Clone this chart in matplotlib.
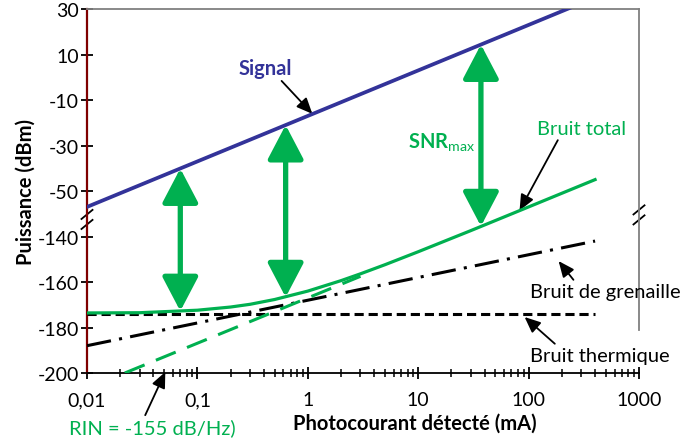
import matplotlib
matplotlib.use("Agg")
import matplotlib.pyplot as plt
from matplotlib.ticker import FixedLocator, LogLocator, NullFormatter

plt.rcParams['font.family'] = ['Lato', 'DejaVu Sans']
plt.rcParams['font.size'] = 14
plt.rcParams['mathtext.fontset'] = 'custom'
plt.rcParams['mathtext.rm'] = 'Lato'

# lower part of the broken y axis (noise, dBm) is shifted up by this amount
BREAK_SHIFT = 70

signal_ma = [0.01, 1000]
signal_dbm = [-57, 43]

thermal_ma = [0.01, 400]
thermal_dbm = [-174, -174]

shot_ma = [0.01, 400]
shot_dbm = [-188, -142]

rin_ma = [0.022, 3]
rin_dbm = [-200, -157.5]

total_ma = [0.01, 0.03, 0.1, 0.2, 0.3, 0.5, 1, 2, 3, 5, 10, 30, 100, 400]
total_dbm = [-173.6, -173.5, -172.4, -171.0, -169.8, -167.7, -164.0, -159.4,
             -156.4, -152.4, -146.7, -137.4, -127.0, -115.0]

# SNR arrows: current, signal level, total noise level
snr_ma = [0.07, 0.63, 37]
snr_sig = [-40.1, -21.0, 14.4]
snr_noise = [-172.8, -166.7, -135.5]

ytick_pos = [30, 10, -10, -30, -50, -70, -90, -110, -130]
ytick_labels = ['30', '10', '-10', '-30', '-50', '-140', '-160', '-180', '-200']
xtick_pos = [0.01, 0.1, 1, 10, 100, 1000]
xtick_labels = ['0,01', '0,1', '1', '10', '100', '1000']

green = '#00B050'
blue = '#333399'
fs = 14.5


def lo(vals):
    return [v + BREAK_SHIFT for v in vals]


fig = plt.figure(figsize=(6.82, 4.39), dpi=100)
ax = fig.add_axes([87 / 682, 1 - 374 / 439, (639 - 87) / 682, (374 - 10) / 439])
ax.set_xscale('log')
ax.set_xlim(0.01, 1000)
ax.set_ylim(-130, 30)

ax.plot(thermal_ma, lo(thermal_dbm), color='black', lw=2.2, ls=(0, (3, 1.6)), zorder=3)
ax.plot(shot_ma, lo(shot_dbm), color='black', lw=2.2, ls=(0, (8, 2.7, 1, 2.7)), zorder=3)
ax.plot(rin_ma, lo(rin_dbm), color=green, lw=2.2, ls=(0, (7, 4)), zorder=3)
ax.plot(total_ma, lo(total_dbm), color=green, lw=2.3, zorder=4)
ax.plot(signal_ma, signal_dbm, color=blue, lw=2.7, zorder=4)

for x, s, n in zip(snr_ma, snr_sig, snr_noise):
    ax.annotate('', xy=(x, s), xytext=(x, n + BREAK_SHIFT),
                arrowprops=dict(arrowstyle='<|-|>,head_length=1.05,head_width=0.55',
                                mutation_scale=20, color=green, lw=3.8,
                                shrinkA=0, shrinkB=0), zorder=5)

# spines
ax.spines['left'].set_color('#7F0000')
ax.spines['left'].set_linewidth(1.6)
ax.spines['bottom'].set_color('black')
ax.spines['bottom'].set_linewidth(1.3)
ax.spines['top'].set_color('#808080')
ax.spines['top'].set_linewidth(1.3)
ax.spines['right'].set_color('#808080')
ax.spines['right'].set_linewidth(1.3)
ax.spines['right'].set_bounds(-111, 30)

ax.yaxis.set_major_locator(FixedLocator(ytick_pos))
ax.set_yticklabels(ytick_labels)
ax.xaxis.set_major_locator(FixedLocator(xtick_pos))
ax.set_xticklabels(xtick_labels)
ax.xaxis.set_minor_locator(LogLocator(base=10, subs=range(2, 10)))
ax.xaxis.set_minor_formatter(NullFormatter())
ax.tick_params(axis='both', which='major', direction='inout', length=8, width=1.3,
               labelsize=14, color='black')
ax.tick_params(axis='x', which='minor', direction='inout', length=6, width=1.1)
ax.tick_params(axis='x', pad=9)
ax.tick_params(axis='y', pad=2)

ax.set_ylabel('Puissance (dBm)', fontweight='bold', fontsize=fs, labelpad=1)
ax.set_xlabel('Photocourant détecté (mA)', fontweight='bold', fontsize=fs)
ax.xaxis.set_label_coords(0.594, -0.108)

# axis break marks
for xa, yc in [(0.0, -62.5), (1.0, -60.5)]:
    for dy in (-2.2, 2.2):
        ax.plot([xa - 0.01, xa + 0.01], [yc + dy - 2.0, yc + dy + 2.0],
                transform=ax.get_yaxis_transform(), color='black', lw=1.3, clip_on=False)

arrow_k = dict(arrowstyle='-|>,head_length=0.8,head_width=0.35', mutation_scale=12,
               color='black', lw=1.3, shrinkA=0, shrinkB=0)

ax.annotate('Signal', xy=(1.1, -16.1), xytext=(0.415, 4.0), color=blue, fontweight='bold',
            fontsize=fs, ha='center', va='center',
            arrowprops=dict(arrow_k, relpos=(0.75, 0.0)))
ax.annotate('Bruit total', xy=(82.8, -58.6), xytext=(302, -22.7), color=green,
            fontsize=fs, ha='center', va='center',
            arrowprops=dict(arrow_k, relpos=(0.25, 0.0)))
ax.annotate('Bruit de grenaille', xy=(187, -80.8), xytext=(500, -94), color='black',
            fontsize=fs, ha='center', va='center', annotation_clip=False,
            arrowprops=dict(arrow_k, relpos=(0.3, 1.0)))
ax.annotate('Bruit thermique', xy=(92, -105.4), xytext=(442, -122.1), color='black',
            fontsize=fs, ha='center', va='center', annotation_clip=False,
            arrowprops=dict(arrow_k, relpos=(0.2, 1.0)))
ax.annotate('RIN = -155 dB/Hz)', xy=(0.0512, -129.5), xytext=(0.039, -153.7), color=green,
            fontsize=fs, ha='center', va='center', annotation_clip=False,
            arrowprops=dict(arrow_k, relpos=(0.45, 1.0)))

ax.text(8.1, -28.5, r'SNR$_{\mathrm{max}}$', color=green, fontweight='bold', fontsize=fs,
        ha='left', va='center')

fig.savefig('out.png', dpi=100)
